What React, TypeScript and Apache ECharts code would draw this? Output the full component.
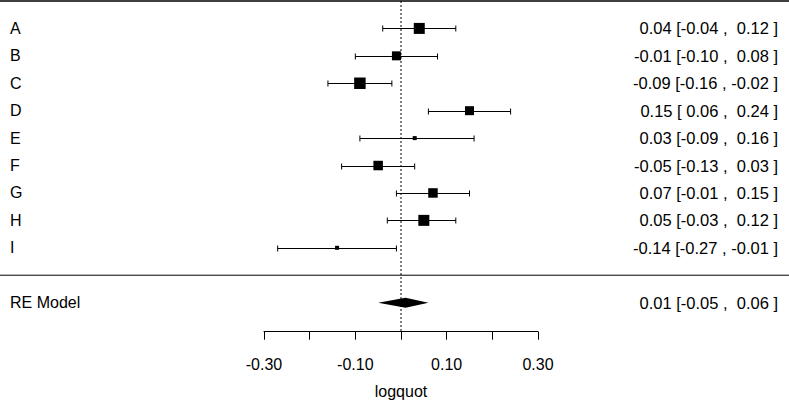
import React, { useEffect, useRef } from "react";
import * as echarts from "echarts";

const studyLabels = ["A", "B", "C", "D", "E", "F", "G", "H", "I"];
const estimates = [0.04, -0.01, -0.09, 0.15, 0.03, -0.05, 0.07, 0.05, -0.14];
const lowerCI = [-0.04, -0.1, -0.16, 0.06, -0.09, -0.13, -0.01, -0.03, -0.27];
const upperCI = [0.12, 0.08, -0.02, 0.24, 0.16, 0.03, 0.15, 0.12, -0.01];
const weights = [11, 9, 11.5, 9, 4, 9.5, 9.5, 11, 4];

const reLabel = "RE Model";
const reEstimate = 0.01;
const reLower = -0.05;
const reUpper = 0.06;

const xTicks = [-0.3, -0.2, -0.1, 0, 0.1, 0.2, 0.3];
const xTickLabels = ["-0.30", "", "-0.10", "", "0.10", "", "0.30"];
const xName = "logquot";

const FONT = "'Liberation Sans', Arial, sans-serif";
const FS = 16;

const fmtPad = (v: number) => (v < 0 ? v.toFixed(2) : " " + v.toFixed(2));
const annot = (e: number, l: number, u: number) =>
  `${e.toFixed(2)} [${fmtPad(l)} , ${fmtPad(u)} ]`;

export default function App() {
  const ref = useRef<HTMLDivElement>(null);
  useEffect(() => {
    if (!ref.current) return;
    const chart = echarts.init(ref.current, null, { renderer: "svg" });
    const reRow = studyLabels.length + 2;
    const sepRow = studyLabels.length + 1;
    const yMax = 12.06;

    const studyData = studyLabels.map((_, i) => [estimates[i], i + 1, lowerCI[i], upperCI[i], weights[i]]);

    const textStyle = (text: string, align: string, size: number) => ({
      text,
      fontSize: size,
      fontFamily: FONT,
      fill: "#000",
      align,
      verticalAlign: "middle",
    });

    chart.setOption({
      animation: false,
      grid: { left: 264, width: 274, top: 1, bottom: 401 - 331.7, containLabel: false, outerBoundsMode: "none" },
      xAxis: {
        type: "value",
        position: "bottom",
        min: -0.3,
        max: 0.3,
        interval: 0.1,
        splitLine: { show: false },
        axisLine: { show: true, onZero: false, lineStyle: { color: "#000", width: 1 } },
        axisTick: { show: true, length: 8, lineStyle: { color: "#000", width: 1 } },
        axisLabel: {
          margin: 25,
          fontSize: FS,
          fontFamily: FONT,
          color: "#000",
          formatter: (v: number) => {
            const idx = xTicks.findIndex((t) => Math.abs(t - v) < 1e-9);
            return idx >= 0 ? xTickLabels[idx] : "";
          },
        },
        name: xName,
        nameLocation: "middle",
        nameGap: 52,
        nameTextStyle: { fontSize: FS, fontFamily: FONT, color: "#000" },
      },
      yAxis: { type: "value", min: 0, max: yMax, inverse: true, show: false },
      series: [
        {
          type: "custom",
          name: "frame",
          data: [[0, 0], [0, sepRow]],
          renderItem: (params: any, api: any) => {
            const p = api.coord([api.value(0), api.value(1)]);
            return {
              type: "line",
              shape: { x1: 0, y1: p[1], x2: api.getWidth(), y2: p[1] },
              style: { stroke: "#000", lineWidth: params.dataIndex === 0 ? 1.5 : 1 },
            };
          },
        },
        {
          type: "custom",
          name: "zero",
          data: [[0, 0, yMax]],
          renderItem: (params: any, api: any) => {
            const a = api.coord([api.value(0), api.value(1)]);
            const b = api.coord([api.value(0), api.value(2)]);
            return {
              type: "line",
              shape: { x1: a[0], y1: a[1], x2: b[0], y2: b[1] },
              style: { stroke: "#000", lineWidth: 1, lineDash: [2, 2] },
            };
          },
        },
        {
          type: "custom",
          name: "studies",
          data: studyData,
          renderItem: (params: any, api: any) => {
            const c = api.coord([api.value(0), api.value(1)]);
            const l = api.coord([api.value(2), api.value(1)]);
            const u = api.coord([api.value(3), api.value(1)]);
            const s = api.value(4);
            const y = Math.round(c[1]) + 0.5;
            return {
              type: "group",
              children: [
                { type: "line", shape: { x1: l[0], y1: y, x2: u[0], y2: y }, style: { stroke: "#000", lineWidth: 1 } },
                { type: "line", shape: { x1: l[0], y1: y - 3, x2: l[0], y2: y + 3 }, style: { stroke: "#000", lineWidth: 1 } },
                { type: "line", shape: { x1: u[0], y1: y - 3, x2: u[0], y2: y + 3 }, style: { stroke: "#000", lineWidth: 1 } },
                { type: "rect", shape: { x: c[0] - s / 2, y: c[1] - s / 2, width: s, height: s }, style: { fill: "#000" } },
              ],
            };
          },
        },
        {
          type: "custom",
          name: "summary",
          data: [[reEstimate, reRow, reLower, reUpper]],
          renderItem: (params: any, api: any) => {
            const c = api.coord([api.value(0), api.value(1)]);
            const l = api.coord([api.value(2), api.value(1)]);
            const u = api.coord([api.value(3), api.value(1)]);
            const h = 5;
            return {
              type: "polygon",
              shape: { points: [[l[0], c[1]], [c[0], c[1] - h], [u[0], c[1]], [c[0], c[1] + h]] },
              style: { fill: "#000" },
            };
          },
        },
        {
          type: "custom",
          name: "labels",
          data: [
            ...studyLabels.map((lab, i) => [0, i + 1]),
            [0, reRow],
          ],
          renderItem: (params: any, api: any) => {
            const c = api.coord([0, api.value(1)]);
            const i = params.dataIndex;
            const item = i < studyLabels.length
              ? [studyLabels[i], annot(estimates[i], lowerCI[i], upperCI[i])]
              : [reLabel, annot(reEstimate, reLower, reUpper)];
            return {
              type: "group",
              children: [
                { type: "text", x: 10, y: c[1], style: textStyle(item[0], "left", FS) },
                { type: "text", x: api.getWidth() - 11, y: c[1], style: textStyle(item[1], "right", 16.5) },
              ],
            };
          },
        },
      ],
    });
    return () => chart.dispose();
  }, []);
  return <div ref={ref} style={{ position: "absolute", left: 0, top: 0, width: 789, height: 401 }} />;
}
